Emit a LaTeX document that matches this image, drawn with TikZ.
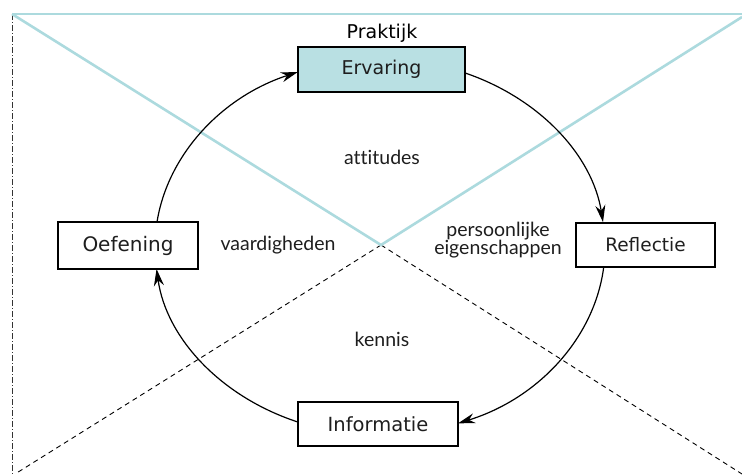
\documentclass[tikz,border=0pt]{standalone}
\usepackage{fontspec}
\setmainfont{Lato}[Ligatures=NoCommon]
\newfontfamily\boxfont{DejaVu Sans}
\usetikzlibrary{arrows.meta}
\definecolor{tealfill}{RGB}{185,224,227}
\definecolor{tealline}{RGB}{172,218,222}
\definecolor{ink}{RGB}{30,30,30}
\tikzset{
  boxnode/.style={draw=black,line width=1.2pt,rectangle,inner sep=0pt,text=ink,font=\boxfont\fontsize{19}{20}\selectfont},
  lbl/.style={font=\fontsize{19.5}{21}\selectfont,text=ink,inner sep=0pt,align=center},
  cyc/.style={line width=1.2pt,-{Stealth[length=17pt,width=10pt]}},
  blue/.style={draw=tealline,line width=2.6pt},
  dsh/.style={draw=black,line width=0.9pt,dash pattern=on 5pt off 4pt},
}
\begin{document}
\begin{tikzpicture}[x=1pt,y=-1pt]
\useasboundingbox (0,0) rectangle (742,475);
\coordinate (tl) at (12,14);
\coordinate (tr) at (742,14);
\coordinate (tr2) at (742,17);
\coordinate (ctr) at (381,245);
\coordinate (bl) at (15,474);
\coordinate (br) at (742,474);
\coordinate (lb) at (12,475);
% guide lines
\draw[black!80,line width=0.9pt,dash pattern=on 6pt off 2pt on 1pt off 2pt] (tl) -- (lb);
\draw[dsh] (ctr) -- (bl);
\draw[dsh] (ctr) -- (br);
\draw[blue] (tl) -- (tr);
\draw[blue] (tl) -- (ctr) -- (tr2);
% boxes
\node[boxnode,fill=tealfill,minimum width=167pt,minimum height=45pt] (erv) at (381.5,69.5) {Ervaring};
\node[boxnode,fill=white,minimum width=139pt,minimum height=44pt,font=\boxfont\fontsize{18.5}{20}\selectfont] (ref) at (645.5,245) {Reflectie};
\node[boxnode,fill=white,minimum width=160pt,minimum height=44pt,font=\boxfont\fontsize{19.5}{20}\selectfont] (inf) at (378,424) {Informatie};
\node[boxnode,fill=white,minimum width=140pt,minimum height=47pt,font=\boxfont\fontsize{20}{20}\selectfont] (oef) at (128,245.5) {Oefening};
\node[font=\boxfont\fontsize{19}{20}\selectfont,inner sep=0pt] (prak) at (382,33) {Praktijk};
% labels
\node[lbl] (att) at (382,157) {attitudes};
\node[lbl] (vaa) at (278,245) {vaardigheden};
\node[lbl] (pers) at (498,240) {persoonlijke\\[-3pt]eigenschappen};
\node[lbl] (ken) at (382,339) {kennis};
% cycle arcs on ellipse centre (380,247), rx 225, ry 188
\coordinate (a1) at ({380+225*cos(-67.8)},{247+188*sin(-67.8)});
\coordinate (a2) at ({380+225*cos(6.1)},{247+188*sin(6.1)});
\coordinate (a3) at ({380+225*cos(111.4)},{247+188*sin(111.4)});
\coordinate (a4) at ({380+225*cos(187.6)},{247+188*sin(187.6)});
\draw[cyc] (a1) arc[start angle=-67.8,end angle=-7.6,x radius=225,y radius=188];
\draw[cyc] (a2) arc[start angle=6.1,end angle=69.7,x radius=225,y radius=188];
\draw[cyc] (a3) arc[start angle=111.4,end angle=173.3,x radius=225,y radius=188];
\draw[cyc] (a4) arc[start angle=187.6,end angle=248.6,x radius=225,y radius=188];
\end{tikzpicture}
\end{document}
